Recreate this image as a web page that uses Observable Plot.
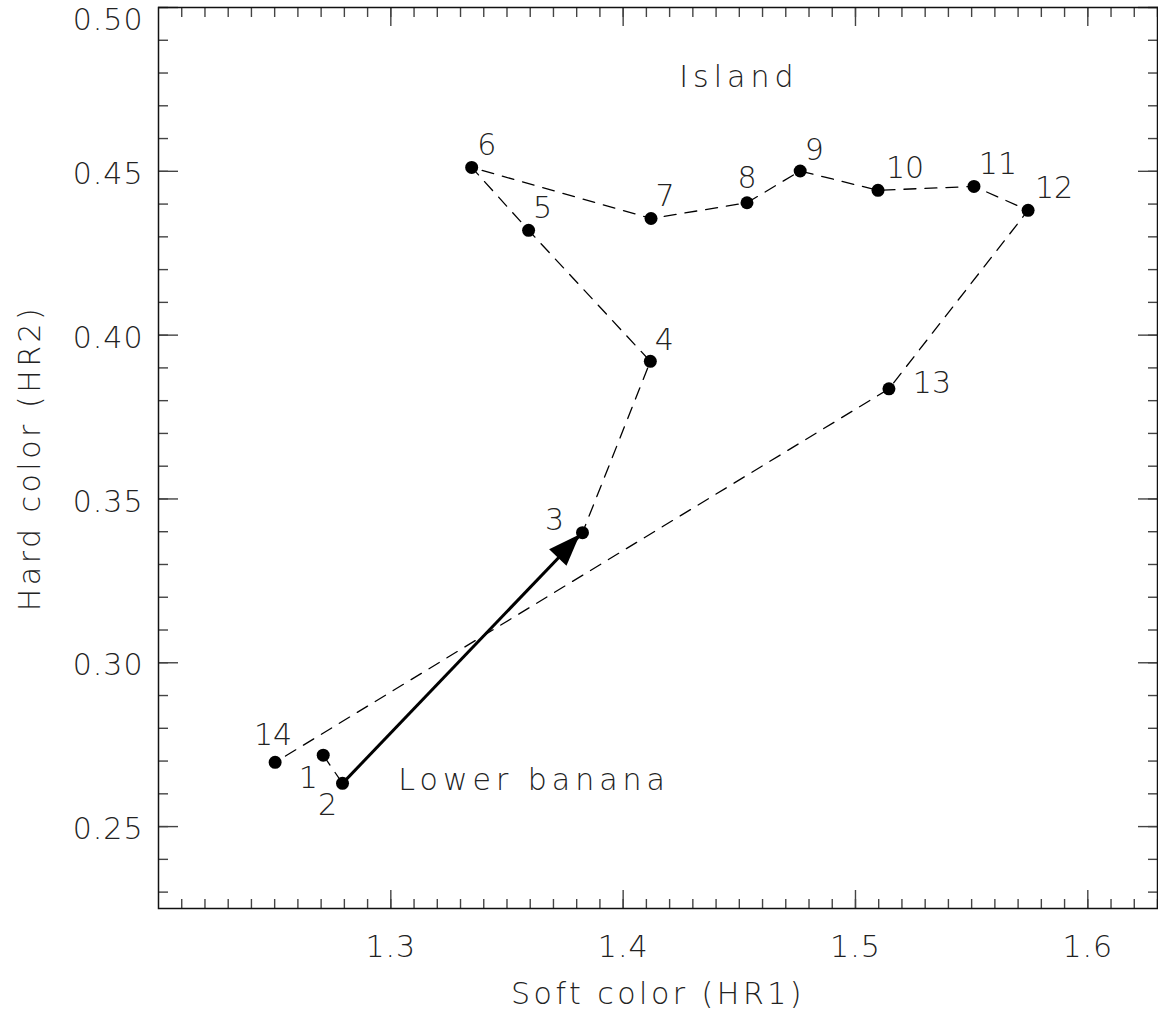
<!DOCTYPE html>
<html>
<head>
<meta charset="utf-8">
<script src="https://cdn.jsdelivr.net/npm/d3@7"></script>
<script src="https://cdn.jsdelivr.net/npm/@observablehq/plot@0.6"></script>
<style>
  html, body { margin: 0; padding: 0; background: #fff; }
  svg g[aria-label="x-axis tick label"] text,
  svg g[aria-label="y-axis tick label"] text { letter-spacing: 1px; }
  svg g[aria-label="x-axis label"] text,
  svg g[aria-label="y-axis label"] text { letter-spacing: 3.5px; }
</style>
</head>
<body>
<div id="chart"></div>
<script>
// ---- data ----
const pointLabels = ["1","2","3","4","5","6","7","8","9","10","11","12","13","14"];
const softColor = [1.2709, 1.2792, 1.3825, 1.4117, 1.3593, 1.3348, 1.4120, 1.4533, 1.4762, 1.5097, 1.5510, 1.5743, 1.5144, 1.2502];
const hardColor = [0.2718, 0.2632, 0.3397, 0.3920, 0.4320, 0.4512, 0.4356, 0.4404, 0.4501, 0.4442, 0.4454, 0.4381, 0.3836, 0.2696];
const arrowFrom = "2", arrowTo = "3";
const annText = ["Island", "Lower banana"];
const annX = [1.4498, 1.3617];
const annY = [0.4788, 0.2640];
const xMajorTicks = [1.3, 1.4, 1.5, 1.6];
const yMajorTicks = [0.25, 0.30, 0.35, 0.40, 0.45];
const yTopTick = [0.50];
const xMinorTicks = d3.range(121, 164).map(d => d / 100);
const yMinorTicks = d3.range(225, 501).filter(d => d % 10 === 0).map(d => d / 1000);

// ---- style (label offsets in px) ----
const labelOffset = {
  "1": [-15, 23], "2": [-15, 22], "3": [-28, -12], "4": [14, -21], "5": [14, -22],
  "6": [15, -22], "7": [14, -22], "8": [0, -24], "9": [14, -21], "10": [27, -22],
  "11": [24, -22], "12": [26, -22], "13": [43, -5], "14": [-2, -27]
};
const font = "'DejaVu Sans', sans-serif";
const ink = "#222";

const pts = pointLabels.map((l, i) => ({label: l, x: softColor[i], y: hardColor[i]}));
const iFrom = pointLabels.indexOf(arrowFrom), iTo = pointLabels.indexOf(arrowTo);
const seg = [{x1: softColor[iFrom], y1: hardColor[iFrom], x2: softColor[iTo], y2: hardColor[iTo]}];
const ann = annText.map((t, i) => ({t, x: annX[i], y: annY[i]}));

const tickStyle = {stroke: "#444", strokeWidth: 1.4, tickFormat: () => "", label: null};

const plot = Plot.plot({
  width: 1158,
  height: 1015,
  marginLeft: 158,
  marginRight: 1,
  marginTop: 7,
  marginBottom: 107,
  x: {domain: [1.2, 1.63]},
  y: {domain: [0.225, 0.50]},
  style: {fontFamily: font, fontSize: "30px", color: ink, background: "#fff", fontWeight: 200},
  marks: [
    // inward ticks on four sides
    Plot.axisX(xMinorTicks, {anchor: "bottom", tickSize: -9, ...tickStyle}),
    Plot.axisX(xMinorTicks, {anchor: "top", tickSize: -9, ...tickStyle}),
    Plot.axisX(xMajorTicks, {anchor: "bottom", tickSize: -18, ...tickStyle}),
    Plot.axisX(xMajorTicks, {anchor: "top", tickSize: -18, ...tickStyle}),
    Plot.axisY(yMinorTicks, {anchor: "left", tickSize: -10, ...tickStyle}),
    Plot.axisY(yMinorTicks, {anchor: "right", tickSize: -10, ...tickStyle}),
    Plot.axisY([...yMajorTicks, ...yTopTick], {anchor: "left", tickSize: -20, ...tickStyle}),
    Plot.axisY([...yMajorTicks, ...yTopTick], {anchor: "right", tickSize: -20, ...tickStyle}),
    // tick labels + axis titles
    Plot.axisX(xMajorTicks, {anchor: "bottom", tickSize: 0, tickPadding: 27, tickFormat: d3.format(".1f"),
      label: "Soft color (HR1)", labelAnchor: "center", labelArrow: "none", labelOffset: 95}),
    Plot.axisY(yMajorTicks, {anchor: "left", tickSize: 0, tickPadding: 15, dy: 3, tickFormat: d3.format(".2f"),
      label: "Hard color (HR2)", labelAnchor: "center", labelArrow: "none", labelOffset: 140}),
    Plot.axisY(yTopTick, {anchor: "left", tickSize: 0, tickPadding: 15, dy: 13, tickFormat: d3.format(".2f"), label: null}),
    Plot.frame({stroke: "#111", strokeWidth: 1.5}),
    // trajectory
    Plot.line(pts, {x: "x", y: "y", stroke: "#000", strokeWidth: 1.3, strokeDasharray: "12,9"}),
    Plot.link(seg, {x1: "x1", y1: "y1", x2: "x2", y2: "y2", stroke: "#000", strokeWidth: 3}),
    Plot.dot(pts, {x: "x", y: "y", r: 6.5, fill: "#000"}),
    Plot.text(pts, {x: "x", y: "y", text: "label", fill: ink}),
    Plot.text(ann, {x: "x", y: "y", text: "t", fill: ink})
  ]
});

// apply per-label offsets (text positions remain driven by scales)
const sx = plot.scale("x"), sy = plot.scale("y");
const textGroups = d3.select(plot).selectAll("g[aria-label='text']").nodes();
d3.select(textGroups[0]).selectAll("text")
  .attr("transform", function(_, i) {
    const p = pts[i];
    const o = labelOffset[p.label];
    return `translate(${sx.apply(p.x) + o[0]},${sy.apply(p.y) + o[1]})`;
  });
d3.select(textGroups[1]).selectAll("text").style("letter-spacing", "5px");

// filled arrowhead at the end of the solid segment
{
  const x1 = sx.apply(seg[0].x1), y1 = sy.apply(seg[0].y1);
  const x2 = sx.apply(seg[0].x2), y2 = sy.apply(seg[0].y2);
  const a = Math.atan2(y2 - y1, x2 - x1);
  const ux = Math.cos(a), uy = Math.sin(a);
  const tipX = x2 - 3 * ux, tipY = y2 - 3 * uy;
  const L = 32, W = 12;
  const bx = tipX - L * ux, by = tipY - L * uy;
  const poly = [[tipX, tipY], [bx - W * uy, by + W * ux], [bx + W * uy, by - W * ux]];
  d3.select(plot).append("polygon")
    .attr("points", poly.map(p => p.join(",")).join(" "))
    .attr("fill", "#000");
}

document.getElementById("chart").appendChild(plot);
</script>
</body>
</html>
